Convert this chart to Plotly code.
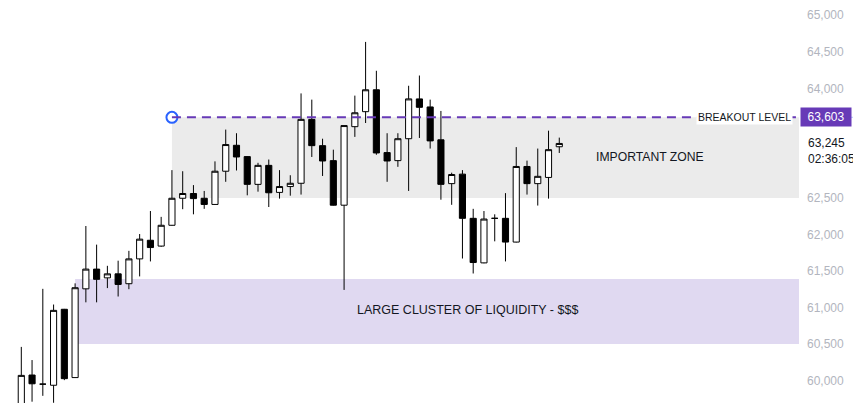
import plotly.graph_objects as go

# candle data (index = bar number)
bars = list(range(51))
opens = [59650, 60075, 59950, 59935, 60975, 60040, 61255, 61525, 61405, 61460,
         61325, 61665, 61920, 61840, 62125, 62495, 62560, 62495, 62410, 62865,
         63220, 63065, 62685, 62945, 62575, 62655, 62700, 63575, 63215, 63010,
         62400, 63475, 63680, 63980, 63120, 63010, 63310, 63855, 63745, 63295,
         62695, 62825, 62220, 61610, 62220, 62220, 61895, 62930, 62695, 62780,
         63200]
highs = [60460, 60280, 61255, 61040, 60980, 61330, 62115, 61860, 61570, 61640,
         61775, 62005, 62320, 62240, 62880, 62865, 62675, 62595, 63000, 63435,
         63385, 63070, 62980, 63025, 62880, 62810, 63930, 63845, 63310, 63160,
         63490, 63900, 64635, 64240, 63385, 63385, 64035, 64175, 63845, 63690,
         62845, 62880, 62350, 62320, 62275, 62565, 63195, 63010, 63175, 63420,
         63325]
lows = [59550, 59710, 59790, 59695, 60005, 60040, 61070, 61070, 61265, 61150,
        61250, 61425, 61630, 61830, 62120, 62345, 62275, 62350, 62405, 62720,
        62875, 62535, 62585, 62375, 62490, 62530, 62545, 63060, 62800, 62395,
        61240, 63335, 63525, 63090, 62720, 62925, 62595, 63320, 63175, 62475,
        62405, 61670, 61465, 61605, 61905, 61630, 61890, 62545, 62395, 62490,
        63115]
closes = [60070, 59955, 59950, 60960, 60025, 61270, 61525, 61385, 61460, 61315,
          61665, 61935, 61820, 62125, 62495, 62560, 62490, 62410, 62865, 63230,
          63060, 62685, 62945, 62570, 62655, 62700, 63575, 63215, 63005, 62400,
          63490, 63665, 63980, 63115, 63005, 63310, 63855, 63740, 63280, 62685,
          62820, 62220, 61615, 62210, 62220, 61895, 62930, 62695, 62795, 63160,
          63245]

breakout = 63603
last_price = 63245
countdown = "02:36:05"
zone_top, zone_bottom = 63603, 62500
liq_top, liq_bottom = 61390, 60500
zone_start, liq_start = 14, 5
# 63,000 / 63,500 sit under the price labels on the axis
tick_vals = [60000, 60500, 61000, 61500, 62000, 62500, 64000, 64500, 65000]

X_RANGE = [-1.236, 72.28]
Y_RANGE = [59692, 65072]

font = "Liberation Sans"
ink = "#131722"

fig = go.Figure()

fig.add_trace(go.Candlestick(
    x=bars, open=opens, high=highs, low=lows, close=closes,
    increasing=dict(fillcolor="#ffffff", line=dict(color="#000000", width=1)),
    decreasing=dict(fillcolor="#000000", line=dict(color="#000000", width=1)),
    showlegend=False,
))

# anchor point of the breakout line
fig.add_trace(go.Scatter(
    x=[zone_start], y=[breakout], mode="markers",
    marker=dict(size=11, color="#ffffff", line=dict(color="#2962ff", width=2)),
    showlegend=False, cliponaxis=False,
))

shapes = [
    dict(type="rect", xref="x", yref="y", x0=zone_start, x1=X_RANGE[1],
         y0=zone_bottom, y1=zone_top,
         fillcolor="#ebebeb", line=dict(width=0), layer="below"),
    dict(type="rect", xref="x", yref="y", x0=liq_start, x1=X_RANGE[1],
         y0=liq_bottom, y1=liq_top,
         fillcolor="#e0d9f1", line=dict(width=0), layer="below"),
    dict(type="line", xref="paper", yref="y", x0=0, x1=1, y0=last_price, y1=last_price,
         line=dict(color="#ffffff", width=1, dash="dot"), layer="below"),
    dict(type="line", xref="x", yref="y", x0=zone_start, x1=X_RANGE[1],
         y0=breakout, y1=breakout,
         line=dict(color="#673ab7", width=2, dash="9px,6px"), layer="above"),
    dict(type="line", xref="paper", yref="y", x0=1.062, x1=1.08, y0=breakout, y1=breakout,
         line=dict(color="#b3c6ff", width=1)),
]

annotations = [
    dict(x=58.4, y=63056, xref="x", yref="y", text="IMPORTANT ZONE", showarrow=False,
         font=dict(family=font, size=12.2, color=ink)),
    dict(x=41.5, y=60959, xref="x", yref="y", text="LARGE CLUSTER OF LIQUIDITY - $$$",
         showarrow=False, font=dict(family=font, size=12.5, color=ink)),
    dict(x=1, y=breakout, xref="paper", yref="y", xanchor="right", xshift=-6,
         text="BREAKOUT LEVEL", showarrow=False, bgcolor="#ffffff", borderpad=1,
         font=dict(family=font, size=10.5, color=ink)),
    dict(x=1, y=breakout, xref="paper", yref="y", xanchor="left", xshift=1,
         text=f"{breakout:,}", showarrow=False, bgcolor="#673ab7", width=48, height=16,
         font=dict(family=font, size=12, color="#ffffff")),
    dict(x=1, y=63142, xref="paper", yref="y", xanchor="left", xshift=7, align="left",
         text=f"{last_price:,}<br>{countdown}", showarrow=False, bgcolor="#ffffff",
         width=52, font=dict(family=font, size=12, color=ink)),
]

# the page adds an 8px body margin, so the figure is 8px smaller each way
fig.update_layout(
    width=853, height=395,
    margin=dict(l=0, r=62, t=0, b=0),
    paper_bgcolor="#ffffff", plot_bgcolor="#ffffff",
    boxgap=0.43, boxgroupgap=0,
    shapes=shapes,
    annotations=annotations,
    showlegend=False,
    hovermode=False,
    xaxis=dict(range=X_RANGE, visible=False, rangeslider=dict(visible=False),
               fixedrange=True),
    yaxis=dict(range=Y_RANGE, side="right", showgrid=False, zeroline=False,
               showline=False, tickvals=tick_vals, tickformat=",d",
               tickfont=dict(family=font, size=12, color="#b2b5be"),
               ticklabelstandoff=7, ticklabeloverflow="allow", fixedrange=True),
)

fig.write_html("out.html")
